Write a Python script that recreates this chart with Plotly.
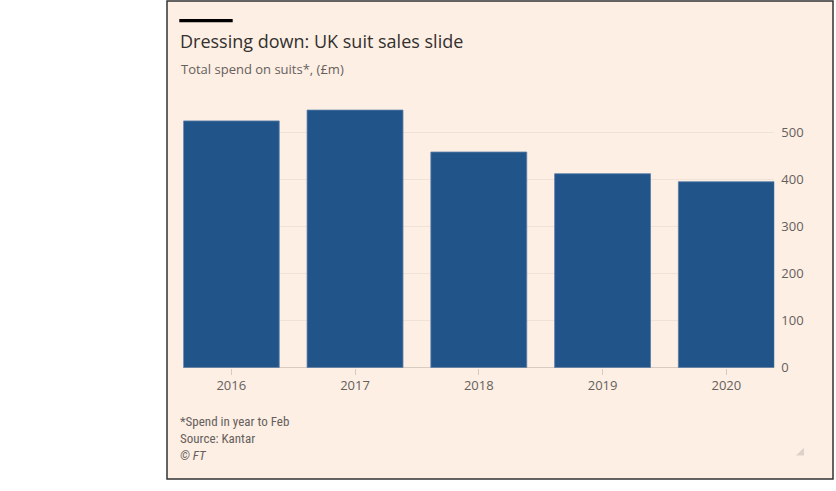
import plotly.graph_objects as go

W, H = 836, 491

years = ["2016", "2017", "2018", "2019", "2020"]
spend = [524, 547, 458, 412, 395]
y_ticks = [0, 100, 200, 300, 400, 500]


def px(x):
    return x / W


def py(y):
    return 1 - y / H


fig = go.Figure()
fig.add_trace(go.Bar(
    x=years, y=spend,
    marker=dict(color="#21558a", line=dict(color="#5a7fa8", width=0.8)),
    hoverinfo="skip",
))

grey = "#66605c"

fig.update_layout(
    width=W, height=H,
    margin=dict(l=0, r=0, t=0, b=0),
    paper_bgcolor="white",
    plot_bgcolor="rgba(0,0,0,0)",
    bargap=0.225,
    showlegend=False,
    font=dict(family="Open Sans, sans-serif", color=grey, size=13),
    xaxis=dict(
        domain=[px(183.3), px(774.3)],
        range=[-0.3875, 4.3875],
        showgrid=False,
        ticks="outside", ticklen=6, tickcolor="#d8ccc2",
        showline=False,
        tickfont=dict(size=13, color=grey),
    ),
    yaxis=dict(
        domain=[py(374.7), py(105.9)],
        range=[0, 560],
        side="right",
        tickvals=y_ticks,
        gridcolor="#efe2d8",
        zeroline=True, zerolinecolor="#d8ccc2", zerolinewidth=1,
        ticklabelstandoff=6,
        tickfont=dict(size=13, color=grey),
    ),
)

# beige panel with dark border
fig.add_shape(type="rect", xref="paper", yref="paper",
              x0=px(167), x1=px(833), y0=py(488), y1=py(1),
              fillcolor="#fdefe4", line=dict(color="#333333", width=1.5),
              layer="below")
# black bar above title
fig.add_shape(type="rect", xref="paper", yref="paper",
              x0=px(179.3), x1=px(232.7), y0=py(22.7), y1=py(19.3),
              fillcolor="black", line=dict(width=0))
# resize handle
fig.add_shape(type="path", xref="paper", yref="paper",
              path=f"M {px(804)},{py(464)} L {px(804)},{py(456)} L {px(796)},{py(464)} Z",
              fillcolor="#dcd2ca", line=dict(width=0))

fig.add_annotation(text="Dressing down: UK suit sales slide", xref="paper", yref="paper",
                   x=px(178), y=py(41.7), xanchor="left", yanchor="middle", showarrow=False,
                   font=dict(size=18, color="#33302e", family="Open Sans, sans-serif"))
fig.add_annotation(text="Total spend on suits*, (£m)", xref="paper", yref="paper",
                   x=px(179), y=py(70), xanchor="left", yanchor="middle", showarrow=False,
                   font=dict(size=13, color=grey))

# footnotes as one block so lines don't collide
fig.add_annotation(text="*Spend in year to Feb<br>Source: Kantar<br><i>© FT</i>",
                   xref="paper", yref="paper", x=px(178), y=py(446.7),
                   xanchor="left", yanchor="middle", align="left", showarrow=False,
                   font=dict(size=13, color=grey, lineposition="none",
                             family="Liberation Sans Narrow, Roboto Condensed, sans-serif"))

# page body has an 8px default margin; drop it so the figure sits at 0,0
fig.write_html("out.html", config={"displayModeBar": False},
               post_script="document.body.style.margin='0';")
